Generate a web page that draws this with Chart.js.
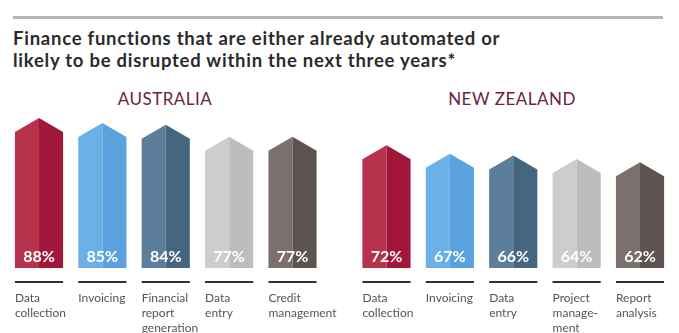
<!DOCTYPE html>
<html>
<head>
<meta charset="utf-8">
<script src="https://cdn.jsdelivr.net/npm/chart.js@4"></script>
<style>
  body { margin: 0; width: 679px; height: 333px; background: #fff; position: relative; overflow: hidden; font-family: Lato, "Open Sans", sans-serif; }
  #rule { position: absolute; left: 13px; top: 16px; width: 650px; height: 3px; background: #b5b5b5; }
  #title { position: absolute; left: 13px; top: 27px; font-size: 18.5px; font-weight: bold; color: #2b2b2b; line-height: 22px; letter-spacing: 0.75px; }
  .group { position: absolute; top: 88px; font-size: 17px; color: #6b2340; text-align: center; width: 200px; letter-spacing: 0.5px; }
  .box { position: absolute; top: 0; height: 333px; }
</style>
</head>
<body>
<div id="rule"></div>
<div id="title">Finance functions that are either already automated or<br>likely to be disrupted within the next three years*</div>
<div class="group" style="left:65px">AUSTRALIA</div>
<div class="group" style="left:412px">NEW ZEALAND</div>
<div class="box" style="left:0;width:340px"><canvas id="auChart"></canvas></div>
<div class="box" style="left:340px;width:339px"><canvas id="nzChart"></canvas></div>
<script>
// Australia
const auLabels = [["Data", "collection"], ["Invoicing"], ["Financial", "report", "generation"], ["Data", "entry"], ["Credit", "management"]];
const auValues = [88, 85, 84, 77, 77];
// New Zealand
const nzLabels = [["Data", "collection"], ["Invoicing"], ["Data", "entry"], ["Project", "manage-", "ment"], ["Report", "analysis"]];
const nzValues = [72, 67, 66, 64, 62];

const lightColors = ["#b7334c", "#6cb0e8", "#5c7e9a", "#cdcdcd", "#7b706e"];
const darkColors = ["#a1173a", "#5aa1dd", "#44667f", "#bdbdbd", "#5d5351"];

// draws the arrow-topped two-tone bars, value text, underline and category label
const arrowBars = {
  id: "arrowBars",
  afterDatasetsDraw(chart) {
    const ctx = chart.ctx;
    const meta = chart.getDatasetMeta(0);
    const labels = chart.data.labels;
    meta.data.forEach((bar, i) => {
      const half = bar.width / 2;
      const left = bar.x - half, right = bar.x + half;
      const shoulder = bar.y + 14;
      ctx.save();
      ctx.fillStyle = lightColors[i];
      ctx.beginPath();
      ctx.moveTo(left, bar.base);
      ctx.lineTo(left, shoulder);
      ctx.lineTo(bar.x, bar.y);
      ctx.lineTo(bar.x, bar.base);
      ctx.closePath();
      ctx.fill();
      ctx.fillStyle = darkColors[i];
      ctx.beginPath();
      ctx.moveTo(bar.x, bar.base);
      ctx.lineTo(bar.x, bar.y);
      ctx.lineTo(right, shoulder);
      ctx.lineTo(right, bar.base);
      ctx.closePath();
      ctx.fill();

      // percent
      ctx.fillStyle = "#fff";
      ctx.font = "bold 16px Lato, sans-serif";
      ctx.textAlign = "center";
      ctx.textBaseline = "middle";
      ctx.fillText(chart.data.datasets[0].data[i] + "%", bar.x, bar.base - 11);

      // underline
      ctx.fillStyle = "#333";
      ctx.fillRect(left, bar.base + 13, bar.width, 2);

      // label
      ctx.fillStyle = "#555";
      ctx.font = "12px Lato, sans-serif";
      ctx.textAlign = "left";
      labels[i].forEach((line, j) => {
        ctx.fillText(line, left, bar.base + 30 + j * 15);
      });
      ctx.restore();
    });
  }
};

function createChart(id, labels, values, padLeft, padRight) {
  new Chart(document.getElementById(id), {
    type: "bar",
    data: {
      labels: labels,
      datasets: [{
        data: values,
        backgroundColor: "rgba(0,0,0,0)",
        barPercentage: 0.76,
        categoryPercentage: 1
      }]
    },
    options: {
      responsive: true,
      maintainAspectRatio: false,
      animation: false,
      events: [],
      layout: { padding: { left: padLeft, right: padRight, top: 97.5, bottom: 65 } },
      plugins: { legend: { display: false }, tooltip: { enabled: false } },
      scales: {
        x: { display: false },
        y: { display: false, min: 0, max: 100 }
      }
    },
    plugins: [arrowBars]
  });
}

createChart("auChart", auLabels, auValues, 7.3, 15.8);
createChart("nzChart", nzLabels, nzValues, 14.8, 7.3);
</script>
</body>
</html>
